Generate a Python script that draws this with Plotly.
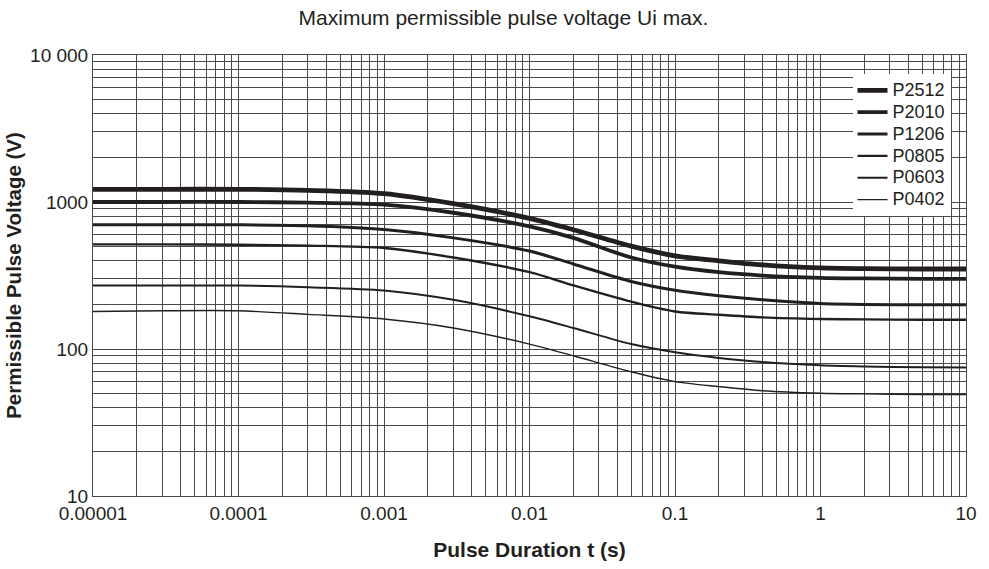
import plotly.graph_objects as go

# ---- data ----
pulse_t = [1e-5, 3e-5, 1e-4, 3e-4, 1e-3, 3e-3, 1e-2, 2e-2, 5e-2, 0.1, 0.2, 0.4, 1, 2, 5, 10]
series_names = ["P2512", "P2010", "P1206", "P0805", "P0603", "P0402"]
v_P2512 = [1220, 1220, 1220, 1200, 1140, 975, 774, 648, 501, 430, 398, 373, 356, 352, 350, 350]
v_P2010 = [1000, 1000, 1000, 990, 960, 845, 682, 570, 419, 363, 333, 316, 305, 302, 300, 300]
v_P1206 = [700, 700, 700, 690, 650, 570, 464, 379, 288, 251, 230, 216, 204, 201, 200, 200]
v_P0805 = [515, 515, 512, 505, 487, 419, 333, 271, 210, 180, 171, 164, 160, 159, 158, 158]
v_P0603 = [270, 270, 270, 263, 250, 216, 167, 139, 108, 95, 87, 81.5, 77.4, 76, 75, 74.7]
v_P0402 = [180, 182, 182, 172, 160, 139, 108, 90, 70, 60, 55.5, 52, 50, 49.5, 49, 49]
series_values = [v_P2512, v_P2010, v_P1206, v_P0805, v_P0603, v_P0402]

x_major = [1e-5, 1e-4, 1e-3, 1e-2, 1e-1, 1, 10]
x_major_labels = ["0.00001", "0.0001", "0.001", "0.01", "0.1", "1", "10"]
y_major = [10, 100, 1000, 10000]
y_major_labels = ["10", "100", "1000", "10 000"]

# ---- styling ----
widths = [4.8, 3.8, 3.0, 2.4, 2.0, 1.4]
ink = "#231f20"
grid = "#4a4a4a"
font_family = "Liberation Sans, Arial, Helvetica, sans-serif"


def full_ticks(majors, labels):
    vals, texts = [], []
    for i, m in enumerate(majors):
        vals.append(m)
        texts.append(labels[i])
        if i < len(majors) - 1:
            for k in range(2, 10):
                vals.append(m * k)
                texts.append("")
    return vals, texts


xv, xt = full_ticks(x_major, x_major_labels)
yv, yt = full_ticks(y_major, y_major_labels)

fig = go.Figure()
for name, vals, w in zip(series_names, series_values, widths):
    fig.add_trace(go.Scatter(
        x=pulse_t, y=vals, mode="lines",
        name='<span style="font-size:18px">' + name + '</span>',
        line=dict(color=ink, width=w, shape="spline", smoothing=0.8),
    ))

fig.update_layout(
    width=989, height=569,
    margin=dict(l=93, r=12, t=55, b=64),
    paper_bgcolor="white", plot_bgcolor="white",
    font=dict(family=font_family, color="#231f20", size=18),
    title=dict(text="Maximum permissible pulse voltage Ui max.",
               x=0.509, xanchor="center", y=0.969, yanchor="middle",
               font=dict(size=21, color="#231f20")),
    legend=dict(x=0.870, xanchor="left", y=0.956, yanchor="top",
                bgcolor="white", borderwidth=0,
                font=dict(size=14.5), tracegroupgap=0, itemwidth=30),
    showlegend=True,
)
fig.update_xaxes(
    type="log", range=[-5, 1],
    tickmode="array", tickvals=xv, ticktext=xt,
    showgrid=True, gridcolor=grid, gridwidth=1,
    showline=True, linecolor=grid, linewidth=1, mirror=True,
    ticks="", zeroline=False,
    title=dict(text="<b>Pulse Duration t (s)</b>", font=dict(size=21), standoff=19),
    tickfont=dict(size=19),
)
fig.update_yaxes(
    type="log", range=[1, 4],
    tickmode="array", tickvals=yv, ticktext=yt,
    showgrid=True, gridcolor=grid, gridwidth=1,
    showline=True, linecolor=grid, linewidth=1, mirror=True,
    ticks="", zeroline=False,
    title=dict(text="<b>Permissible Pulse Voltage (V)</b>", font=dict(size=20.5), standoff=2),
    tickfont=dict(size=19),
)

fig.write_html(
    "out.html",
    config={"displayModeBar": False},
    post_script=("document.documentElement.style.overflow='hidden';"
                 "document.body.style.margin='0';"
                 "document.body.style.overflow='hidden';"),
)
